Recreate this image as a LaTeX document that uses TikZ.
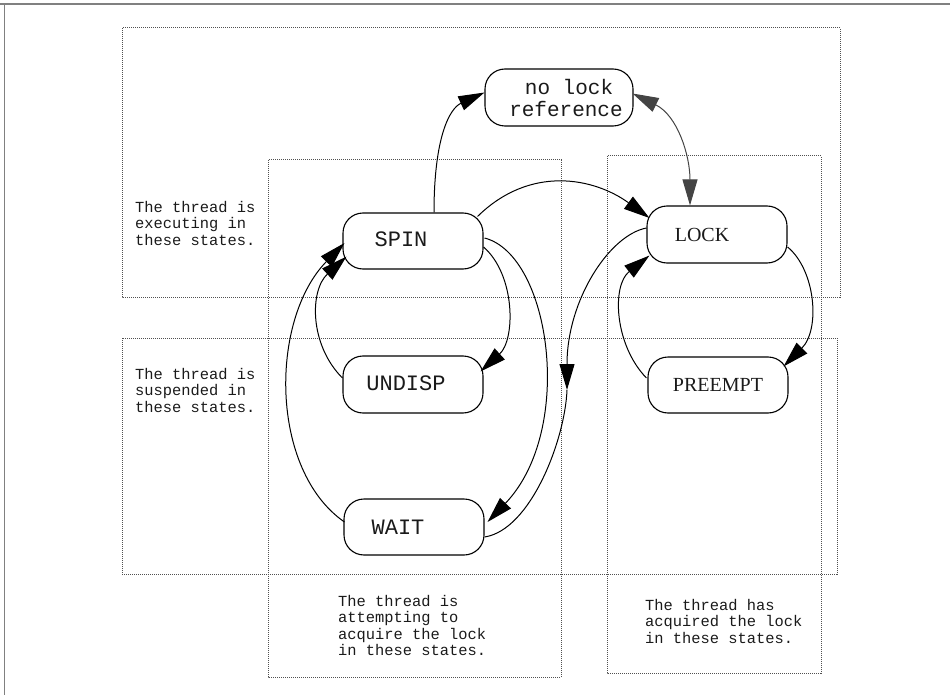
\documentclass[tikz,border=0pt]{standalone}
\usepackage{fontspec}
\setmainfont{Liberation Serif}
\setmonofont{Liberation Mono}
\usetikzlibrary{arrows.meta,calc}

% shift a label sideways inside its box without changing the box width
\newcommand\nudge[2]{\hspace*{#1}#2\hspace*{-#1}}

\definecolor{ink}{HTML}{1A1A1A}
\definecolor{zoneline}{HTML}{505050}
\definecolor{frameline}{HTML}{808080}
\definecolor{headgray}{HTML}{444444}

\begin{document}
\begin{tikzpicture}[x=1pt,y=-1pt,
  statebox/.style={draw=black, line width=1.1pt, rounded corners=20pt,
    minimum width=140pt, minimum height=56pt, inner sep=0pt, text=ink,
    font=\ttfamily\fontsize{22}{19}\selectfont},
  serifstate/.style={statebox, font=\rmfamily\fontsize{20}{20}\selectfont},
  zone/.style={draw=zoneline, line width=1pt, dash pattern=on 1pt off 1pt},
  note/.style={anchor=north west, inner sep=0pt, align=left, text=ink,
    font=\ttfamily\fontsize{15.4}{16.5}\selectfont},
  edge/.style={draw=black, line width=1pt, -{Triangle[length=26pt,width=15pt]}},
  plain/.style={draw=black, line width=1pt},
  both/.style={draw=headgray, line width=1pt,
    {Triangle[length=26pt,width=15pt]}-{Triangle[length=26pt,width=15pt]}}
]
\useasboundingbox (0,0) rectangle (950,695);

% page frame
\draw[frameline, line width=2pt] (0,4.5) -- (950,4.5);
\draw[frameline, line width=1pt] (4,4.5) -- (4,695);

% zones
\draw[zone] (122,28) rectangle (840,297);
\draw[zone] (122,338) rectangle (837,574);
\draw[zone] (268,160) rectangle (561,677);
\draw[zone] (607,156) rectangle (821,673);

% zone notes
\node[note] (nexec) at (135,201) {The thread is\\executing in\\these states.};
\node[note] (nsusp) at (135,368) {The thread is\\suspended in\\these states.};
\node[note] (natt) at (338,595) {The thread is\\attempting to\\acquire the lock\\in these states.};
\node[note] (nacq) at (645,599) {The thread has\\acquired the lock\\in these states.};

% states
\node[statebox, minimum width=148pt, minimum height=57pt, align=center,
      font=\ttfamily\fontsize{21}{22}\selectfont] (ref) at (559,97.5)
  {\nudge{10pt}{no lock}\\\nudge{7pt}{reference}};
\node[statebox] (spin) at (413,241) {\nudge{-12pt}{\raisebox{4pt}{SPIN}}};
\node[serifstate, minimum height=57pt] (lock) at (717,234.5) {\nudge{-15pt}{LOCK}};
\node[statebox, minimum height=57pt] (undisp) at (413,384.5) {\nudge{-7pt}{\raisebox{3pt}{UNDISP}}};
\node[serifstate] (preempt) at (718,385) {PREEMPT};
\node[statebox] (wait) at (414,527) {\nudge{-16pt}{WAIT}};

% transitions
\draw[edge] ($(spin.north)+(21,0)$) .. controls +(0,-75) and +(-35,16) .. ($(ref.west)+(0,-5)$);
\draw[both] ($(ref.east)+(-1,-4)$) .. controls +(45,22) and +(0,-50) .. ($(lock.north)+(-27,0)$);
\draw[edge] ($(spin.north east)+(-6,4)$) .. controls +(53,-52) and +(-55,-40) .. ($(lock.west)+(3,-16.5)$);
\draw[edge] ($(spin.east)+(0,6)$) .. controls +(32,28) and +(35,-32) .. ($(undisp.north east)+(-3,16)$);
\draw[edge] ($(spin.east)+(1,-3)$) .. controls +(66,17) and +(88,-92) .. ($(wait.east)+(3,-5)$);
\coordinate (mid) at (567,390);
\draw[edge] ($(lock.west)+(0,-6.5)$) .. controls +(-37,7) and +(0,-90) .. (mid);
\draw[plain] (mid) .. controls +(-2,50) and +(46,-7) .. ($(wait.east)+(0,10)$);
\draw[edge] ($(lock.east)+(0,12.5)$) .. controls +(28,23) and +(37,-37) .. ($(preempt.north east)+(-5,10)$);
\draw[edge] ($(preempt.west)+(-1,-7)$) .. controls +(-32,-33) and +(-38,30) .. ($(lock.south west)+(3,-8)$);
\draw[edge] ($(undisp.west)+(0,-6.5)$) .. controls +(-33,-33) and +(-37,34) .. ($(spin.south west)+(4,-13)$);
\draw[edge] ($(wait.west)+(1,-5)$) .. controls +(-75,-52) and +(-75,77) .. ($(spin.west)+(2,2)$);
\end{tikzpicture}
\end{document}
